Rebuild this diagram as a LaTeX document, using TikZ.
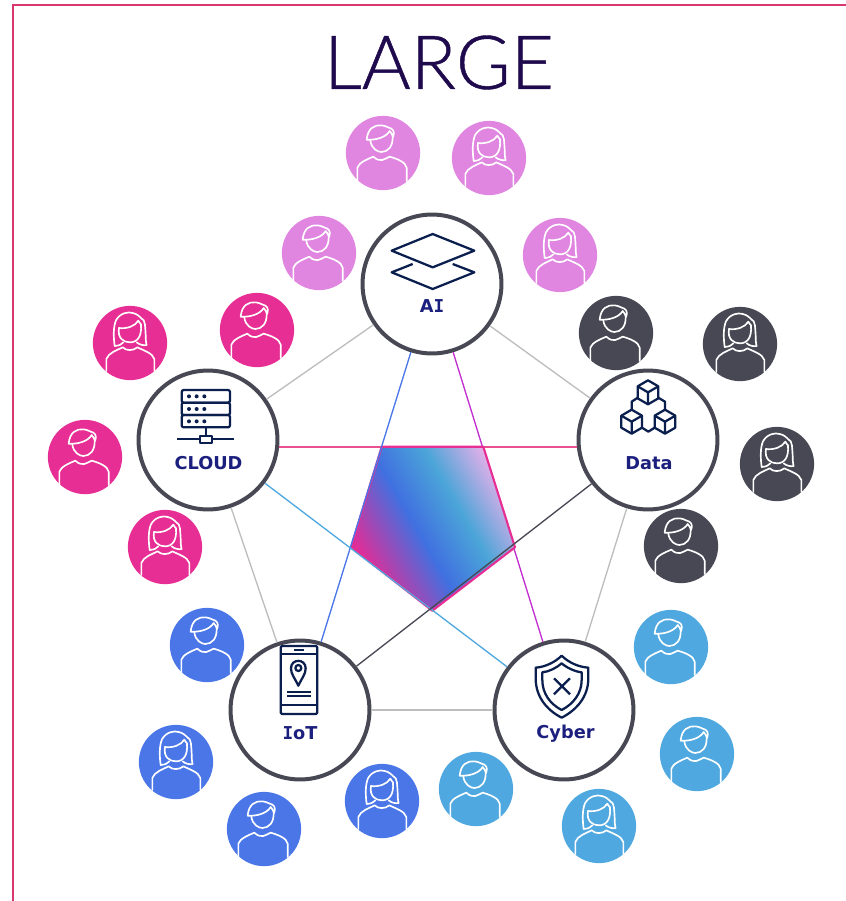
\documentclass[tikz,border=0pt]{standalone}
\usepackage{fontspec}
\setmainfont{DejaVu Sans}
\newfontfamily\titlefont[FakeBold=0.6]{Lato Light}
\newfontfamily\hubmono{DejaVu Sans Mono}
\definecolor{lilac}{HTML}{E085E0}
\definecolor{slate}{HTML}{474854}
\definecolor{sky}{HTML}{4FA8DF}
\definecolor{azure}{HTML}{4A76E8}
\definecolor{rose}{HTML}{E62E94}
\definecolor{ink}{HTML}{0B1F4F}
\definecolor{labelblue}{HTML}{1B1F7E}
\definecolor{titleink}{HTML}{1F0A4D}
\definecolor{gpink}{HTML}{E02E98}
\definecolor{gblue}{HTML}{4070E0}
\definecolor{gsky}{HTML}{4BA5D8}
\definecolor{glight}{HTML}{EBB0EA}
\definecolor{framepink}{HTML}{D8386F}
\definecolor{linkpink}{HTML}{E8508F}
\definecolor{linkviolet}{HTML}{C22FD0}
\definecolor{edgegrey}{HTML}{BDBDBD}
\pgfdeclarehorizontalshading{pentfill}{200bp}{color(0bp)=(gpink);color(45bp)=(gpink);color(90.5bp)=(gblue);color(125.5bp)=(gsky);color(165bp)=(glight);color(200bp)=(glight)}
\tikzset{
  person/.style={circle,draw=none,minimum size=55.7pt,inner sep=0pt,outer sep=0pt},
  hub/.style={circle,draw=slate,fill=white,line width=3pt,minimum size=104.2pt,inner sep=0pt},
  hublabel/.style={inner sep=0pt,text=labelblue,font=\fontsize{13.3}{13.3}\selectfont\bfseries},
  greyedge/.style={draw=edgegrey,line width=1pt},
  icon/.style={draw=ink,line width=1.7pt,line join=round},
  mansym/.pic={
    \begin{scope}[scale=1/3,draw=white,line width=1.25pt,line cap=round,line join=round]
      \draw (-77,84) -- (-77,44) .. controls (-72,28) and (-45,18) .. (-29,11) .. controls (-18,22) and (-8,22) .. (-2,21) .. controls (5,20) and (12,14) .. (20,11) .. controls (45,18) and (68,28) .. (71,44) -- (71,84);
      \draw (-38,-38) .. controls (-35,-12) and (-15,-3) .. (-5,-3) .. controls (15,-3) and (30,-20) .. (29,-48);
      \draw (-49,-40) .. controls (-46,-75) and (-25,-85) .. (-5,-83) .. controls (10,-82) and (15,-75) .. (25,-73) .. controls (35,-68) and (33,-55) .. (30,-48) .. controls (28,-55) and (24,-62) .. (20,-66) .. controls (10,-48) and (-20,-38) .. (-49,-40) -- cycle;
    \end{scope}},
  womansym/.pic={
    \begin{scope}[scale=1/3,draw=white,line width=1.25pt,line cap=round,line join=round]
      \draw (-71,84) -- (-71,48) .. controls (-65,30) and (-40,22) .. (-22,13) .. controls (-12,24) and (10,24) .. (22,13) .. controls (40,22) and (68,30) .. (73,48) -- (73,84);
      \draw (-33,-45) .. controls (-38,-15) and (-20,-2) .. (0,-2) .. controls (22,-2) and (36,-20) .. (33,-55);
      \draw (-33,-45) .. controls (-10,-42) and (15,-50) .. (25,-67) .. controls (28,-60) and (32,-58) .. (34,-55);
      \draw (-20,-2) .. controls (-25,4) and (-32,8) .. (-46,9) .. controls (-50,-20) and (-50,-50) .. (-42,-68) .. controls (-30,-90) and (-5,-95) .. (8,-90) .. controls (20,-88) and (28,-80) .. (33,-75) .. controls (48,-70) and (45,-45) .. (47,-25) .. controls (47,-10) and (48,0) .. (50,6) .. controls (40,8) and (28,5) .. (20,-2);
    \end{scope}},
}
\newcommand{\cubeicon}[2]{%
  \begin{scope}[shift={(#1,#2)}]
    \draw[icon] (0,-36) -- (31,-18) -- (31,18) -- (0,36) -- (-31,18) -- (-31,-18) -- cycle;
    \draw[icon] (-31,-18) -- (0,0) -- (31,-18) (0,0) -- (0,36);
  \end{scope}}
\begin{document}
\begin{tikzpicture}[x=.75pt,y=-.75pt]
\useasboundingbox (0,0) rectangle (846,901);
\draw[framepink,line width=1.1pt] (846,5) -- (13,5) -- (13,901);
\node[inner sep=0pt,text=titleink,font=\titlefont\fontsize{56}{56}\selectfont] (title) at (439,62.5) {LARGE};

% hubs
\node[hub] (ai) at (432,284) {};
\node[hub] (data) at (648,440) {};
\node[hub] (cloud) at (208,440) {};
\node[hub] (iot) at (300,710) {};
\node[hub] (cyber) at (564,710) {};

% connectors under the pentagon
\draw[greyedge] (ai) -- (cloud);
\draw[greyedge] (ai) -- (data);
\draw[greyedge] (cloud) -- (iot);
\draw[greyedge] (data) -- (cyber);
\draw[greyedge] (iot) -- (cyber);
\draw[draw=linkviolet,line width=1pt] (ai) -- (cyber);

% pentagon
\coordinate (pa) at (381.7,446.7);
\coordinate (pb) at (483.3,446.7);
\coordinate (pc) at (515,547.3);
\coordinate (pd) at (432.3,610.7);
\coordinate (pe) at (351,547.3);
\begin{scope}
  \clip (pa) -- (pb) -- (pc) -- (pd) -- (pe) -- cycle;
  \node[inner sep=0pt,rotate=30] (pentfillnode) at (432,530) {\pgfuseshading{pentfill}};
\end{scope}
\draw[draw=linkpink,line width=1.5pt] (cloud.-6) -- (data.186);
\draw[rose,line width=1.6pt,line join=round] (pa) -- (pb) -- (pc) -- (pd) -- (pe) -- cycle;

% connectors over the pentagon
\draw[azure,line width=1pt] (ai) -- (iot);
\draw[sky,line width=1pt] (cloud) -- (cyber);
\draw[slate,line width=1pt] (data) -- (iot);

% people
\foreach \nm/\xx/\yy/\cc/\kind in {
  p1/383/153/lilac/mansym, p2/489/158/lilac/womansym, p3/319/253/lilac/mansym, p4/560/255/lilac/womansym,
  p5/616/333/slate/mansym, p6/740/344/slate/womansym, p7/777/464/slate/womansym, p8/681/546/slate/mansym,
  p9/671/647/sky/mansym, p10/697/754/sky/mansym, p11/599/826/sky/womansym, p12/476/789/sky/mansym,
  p13/382/801/azure/womansym, p14/264/829/azure/mansym, p15/176/762/azure/womansym, p16/207/645/azure/mansym,
  p17/165/547/rose/womansym, p18/85/457/rose/mansym, p19/130/343/rose/womansym, p20/257/330/rose/mansym}
{
  \node[person,fill=\cc] (\nm) at (\xx,\yy) {};
  \pic at (\xx,\yy) {\kind};
}

% AI icon
\begin{scope}[shift={(340,100)},scale=1/3]
  \draw[icon] (155,452) -- (278,402) -- (403,452) -- (278,502) -- cycle;
  \draw[icon] (218,492) -- (155,517) -- (278,567) -- (403,517) -- (338,492);
\end{scope}
\node[hublabel] (ailabel) at (432,306.5) {A{\hubmono I}};

% Data icon
\begin{scope}[shift={(570,290)},scale=1/3]
  \cubeicon{234}{307}
  \cubeicon{185}{395}
  \cubeicon{285}{395}
  \draw[icon] (185,359) -- (185,335) -- (205,322);
  \draw[icon] (285,359) -- (285,335) -- (263,322);
  \draw[icon] (216,413) -- (235,425) -- (254,413);
\end{scope}
\node[hublabel] (datalabel) at (649,463) {Data};

% CLOUD icon
\begin{scope}[shift={(130,370)},scale=1/3]
  \draw[icon,rounded corners=1.5pt] (155,60) rectangle (300,98);
  \draw[icon,rounded corners=1.5pt] (155,98) rectangle (300,135);
  \draw[icon,rounded corners=1.5pt] (155,135) rectangle (300,172);
  \foreach \yd in {79,117,154}{\foreach \xd in {177,200,223}{\fill[ink] (\xd,\yd) circle (6);}}
  \draw[icon] (228,172) -- (228,198);
  \draw[icon] (142,208) -- (210,208) (247,208) -- (313,208);
  \draw[icon] (210,198) rectangle (247,218);
\end{scope}
\node[hublabel] (cloudlabel) at (208.5,463) {CLOUD};

% IoT icon
\begin{scope}[shift={(225,635)},scale=1/3]
  \draw[icon,rounded corners=1pt] (167,33) rectangle (277,237);
  \draw[icon] (167,57) -- (277,57) (167,210) -- (277,210) (207,45) -- (237,45);
  \draw[icon] (220,152) .. controls (210,130) and (198,118) .. (198,100) .. controls (198,70) and (242,70) .. (242,100) .. controls (242,118) and (230,130) .. (220,152) -- cycle;
  \draw[icon] (220,99) circle (9);
  \draw[icon] (187,170) -- (257,170) (187,183) -- (257,183);
\end{scope}
\node[hublabel] (iotlabel) at (300,733.5) {{\hubmono I}oT};

% Cyber icon
\begin{scope}[shift={(490,635)},scale=1/3]
  \draw[icon] (215,62) .. controls (235,82) and (265,96) .. (295,98) -- (295,130) .. controls (295,185) and (260,225) .. (215,248) .. controls (170,225) and (137,185) .. (137,130) -- (137,98) .. controls (165,96) and (195,82) .. (215,62) -- cycle;
  \draw[icon] (215,85) .. controls (230,98) and (255,110) .. (275,112) -- (275,135) .. controls (275,175) and (250,207) .. (215,225) .. controls (180,207) and (157,175) .. (157,135) -- (157,112) .. controls (178,110) and (200,98) .. (215,85) -- cycle;
  \draw[icon] (192,130) -- (240,178) (240,130) -- (192,178);
\end{scope}
\node[hublabel] (cyberlabel) at (565.5,734) {Cyber};
\end{tikzpicture}
\end{document}
